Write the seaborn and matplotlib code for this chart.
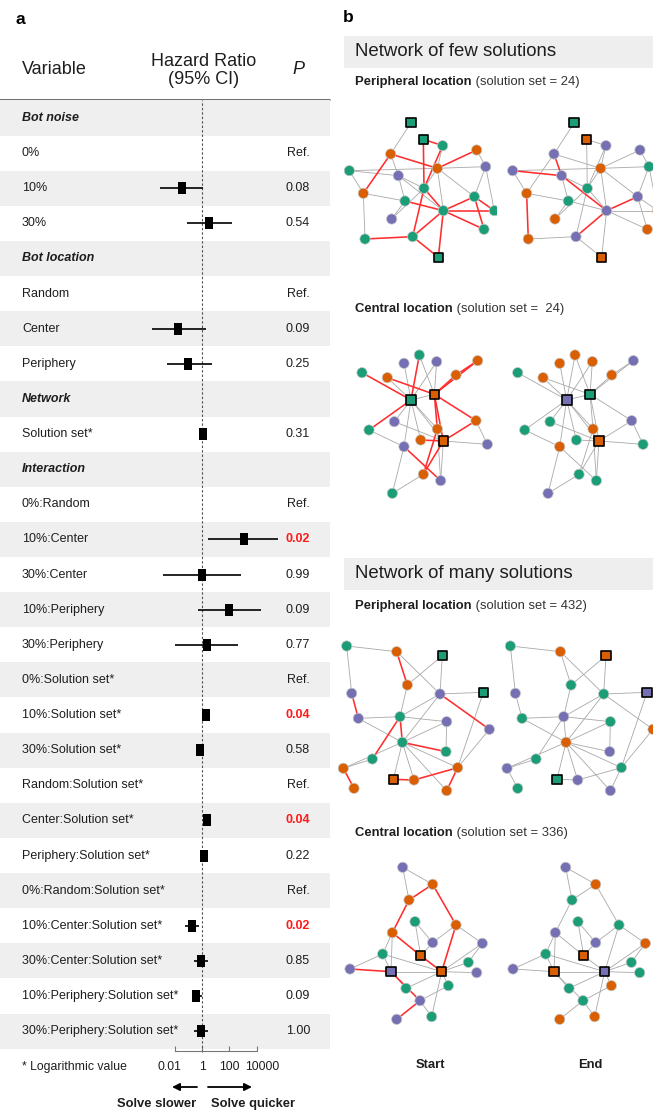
import numpy as np
import pandas as pd
import matplotlib
matplotlib.use("Agg")
import matplotlib.pyplot as plt
from matplotlib.path import Path
from matplotlib.patches import Rectangle
from matplotlib.collections import LineCollection
from matplotlib.transforms import blended_transform_factory, ScaledTranslation
import seaborn as sns

sns.set_theme(style="white")
plt.rcParams["font.family"] = ["Liberation Sans", "DejaVu Sans"]

W, H = 653, 1113
INK = "#1e1e1e"

# ---------------- panel a: hazard ratios ----------------
row_labels = [
    "Bot noise", "0%", "10%", "30%",
    "Bot location", "Random", "Center", "Periphery",
    "Network", "Solution set*",
    "Interaction", "0%:Random", "10%:Center", "30%:Center", "10%:Periphery",
    "30%:Periphery", "0%:Solution set*", "10%:Solution set*", "30%:Solution set*",
    "Random:Solution set*", "Center:Solution set*", "Periphery:Solution set*",
    "0%:Random:Solution set*", "10%:Center:Solution set*", "30%:Center:Solution set*",
    "10%:Periphery:Solution set*", "30%:Periphery:Solution set*",
]
header_rows = [0, 4, 8, 10]
nan = np.nan
hazard = [nan, nan, 0.033, 3.2, nan, nan, 0.017, 0.095, nan, 1.18,
          nan, nan, 1240, 0.95, 100, 2.2, nan, 1.96, 0.71, nan, 2.3, 1.4,
          nan, 0.19, 0.85, 0.36, 0.85]
ci_low = [nan, nan, 0.00085, 0.076, nan, nan, 0.00022, 0.0028, nan, 0.95,
          nan, nan, 2.9, 0.0015, 0.49, 0.0105, nan, 1.2, 0.43, nan, 1.2, 0.85,
          nan, 0.057, 0.26, 0.18, 0.27]
ci_high = [nan, nan, 1.26, 166, nan, nan, 1.95, 5.4, nan, 1.45,
           nan, nan, 380000, 680, 21000, 455, nan, 3.2, 1.18, nan, 4.5, 2.3,
           nan, 0.63, 2.9, 0.98, 2.9]
p_values = ["", "Ref.", "0.08", "0.54", "", "Ref.", "0.09", "0.25", "", "0.31",
            "", "Ref.", "0.02", "0.99", "0.09", "0.77", "Ref.", "0.04", "0.58",
            "Ref.", "0.04", "0.22", "Ref.", "0.02", "0.85", "0.09", "1.00"]
hr_ticks = [0.01, 1, 100, 10000]
hr_tick_labels = ["0.01", "1", "100", "10000"]

# ---------------- panel b: networks ----------------
pal = {"g": "#1b9e77", "o": "#d95f02", "p": "#7570b3"}

few_peri_x = [243, 280, 338, 182, 440, 58, 205, 322, 467, 100, 282, 225, 433, 185, 340, 493, 462, 105, 248, 325]
few_peri_y = [368, 418, 437, 462, 450, 512, 527, 505, 500, 580, 565, 603, 590, 657, 632, 632, 688, 717, 710, 772]
few_peri_start = "gggoogpopogggpgggggg"
few_peri_end = "gopppppogoggpopooopop"[:20]
few_peri_bots = [1, 2, 20]
few_peri_edges = [(1, 4), (6, 10), (10, 18), (10, 12), (7, 11), (8, 11), (8, 9), (8, 13), (9, 13),
                  (14, 11), (14, 12), (6, 8), (8, 15), (9, 16), (7, 12), (8, 3), (6, 7), (7, 15),
                  (15, 13), (15, 20), (4, 7), (4, 10), (4, 8), (8, 5), (2, 3), (2, 11), (11, 19),
                  (3, 11), (11, 15), (12, 15), (15, 16), (13, 17), (13, 16), (15, 17), (15, 19),
                  (19, 20), (18, 19), (5, 9)]

few_cent_x = [268, 222, 320, 443, 96, 172, 378, 243, 313, 193, 438, 117, 322, 272, 340, 222, 472, 280, 332, 187]
few_cent_y = [225, 250, 245, 242, 278, 293, 285, 360, 343, 425, 422, 450, 447, 480, 483, 500, 493, 583, 602, 640]
few_cent_start = "gppogoogopogooopporpg".replace("r", "")[:20]
few_cent_end = "ooopgoopggpgogoogggp"
few_cent_bots = [8, 9, 15]
few_cent_edges = [(5, 8), (1, 8), (6, 9), (7, 9), (4, 9), (4, 7), (9, 13), (9, 15), (9, 11), (11, 15),
                  (14, 15), (15, 18), (12, 8), (16, 19), (13, 18), (2, 8), (3, 8), (3, 9), (8, 9),
                  (8, 10), (8, 16), (8, 13), (8, 14), (10, 15), (12, 16), (16, 20), (18, 20),
                  (13, 19), (11, 17), (15, 19), (1, 9), (6, 8), (15, 17), (8, 15)]

many_peri_x = [50, 200, 337, 232, 65, 330, 460, 85, 210, 350, 478, 217, 348, 127, 40, 383, 72, 190, 252, 350]
many_peri_y = [318, 335, 347, 435, 460, 462, 457, 535, 530, 545, 568, 607, 635, 657, 685, 683, 745, 718, 720, 752]
many_peri_start = "gogoppgpgppgggoooooop"[:20]
many_peri_end = "googpgpgpgoopgpgggpp"
many_peri_bots = [3, 7, 18]
many_peri_edges = [(2, 4), (5, 8), (6, 11), (9, 12), (12, 13), (9, 14), (15, 17), (18, 19), (19, 16),
                   (1, 2), (1, 5), (2, 6), (3, 4), (3, 6), (6, 7), (6, 9), (6, 12), (8, 9), (9, 10),
                   (10, 13), (12, 10), (12, 15), (12, 18), (12, 19), (12, 20), (12, 16), (14, 15),
                   (16, 20), (16, 7), (4, 9), (12, 8), (11, 16)]

many_cent_x = [218, 308, 237, 255, 378, 187, 308, 457, 158, 272, 415, 60, 183, 335, 440, 228, 355, 270, 305, 200]
many_cent_y = [232, 283, 330, 395, 405, 428, 458, 460, 492, 497, 517, 537, 545, 545, 548, 595, 587, 632, 680, 688]
many_cent_start = "poogoopp" + "gogppopggpgp"
many_cent_end = "pogggppogogpopggogoo"
many_cent_bots = [10, 13, 14]
many_cent_edges = [(2, 3), (3, 6), (2, 5), (6, 10), (10, 14), (5, 14), (12, 13), (13, 18), (18, 20),
                   (1, 2), (1, 3), (4, 10), (4, 7), (7, 10), (6, 13), (9, 12), (9, 13), (13, 14),
                   (14, 11), (14, 15), (14, 17), (14, 16), (16, 13), (5, 8), (5, 7), (8, 14),
                   (18, 19), (14, 19), (17, 18), (11, 8), (9, 14), (6, 9)]

fig = plt.figure(figsize=(W / 100, H / 100), dpi=100)
fig.patch.set_facecolor("white")


def px_axes(left, top, width, height):
    return fig.add_axes([left / W, 1 - (top + height) / H, width / W, height / H])


ax_bg = px_axes(0, 0, W, H)
ax_bg.set_xlim(0, W)
ax_bg.set_ylim(H, 0)
ax_bg.set_axis_off()

# ---- forest plot ----
ax_f = px_axes(0, 100.4, 330, 948.3)
ax_f.patch.set_alpha(0)
ax_f.set_xscale("log")
ax_f.set_xlim(10 ** (-202 / 13.67), 10 ** (128 / 13.67))
ax_f.set_ylim(len(row_labels) - 0.5, -0.5)
for i in range(0, len(row_labels), 2):
    ax_f.axhspan(i - 0.5, i + 0.5, color="#efefef", lw=0, zorder=0)

ax_f.axvline(1, ymin=-0.003, ymax=1, color="#555555", lw=0.8, ls=(0, (2.2, 1.8)),
             clip_on=False, zorder=1)

rows = np.arange(len(row_labels))
est = pd.DataFrame({"row": rows, "hr": hazard, "lo": ci_low, "hi": ci_high}).dropna()
ax_f.hlines(est["row"], est["lo"], est["hi"], color="black", lw=1.2, zorder=2)
box = Path([(-0.28, -0.5), (0.28, -0.5), (0.28, 0.5), (-0.28, 0.5), (-0.28, -0.5)],
           [Path.MOVETO, Path.LINETO, Path.LINETO, Path.LINETO, Path.CLOSEPOLY])
sns.scatterplot(data=est, x="hr", y="row", marker=box, s=85, color="black",
                edgecolor="black", linewidth=0, ax=ax_f, zorder=3, legend=False)

for s in ["top", "left", "right"]:
    ax_f.spines[s].set_visible(False)
ax_f.spines["bottom"].set_bounds(hr_ticks[0], hr_ticks[-1])
ax_f.spines["bottom"].set_position(("outward", 2))
ax_f.spines["bottom"].set_color("#777777")
ax_f.spines["bottom"].set_linewidth(0.8)
ax_f.set_xticks(hr_ticks)
ax_f.set_xticklabels(hr_tick_labels)
ax_f.minorticks_off()
ax_f.set_yticks([])
ax_f.set_xlabel("")
ax_f.set_ylabel("")
ax_f.tick_params(axis="x", direction="in", length=3.5, width=0.8, colors="#777777",
                 labelcolor=INK, labelsize=8.8, pad=7, bottom=True)
# keep the outer tick labels from crowding their neighbours
for lab, dx in zip(ax_f.get_xticklabels(), [-5, 0, 0, 6]):
    lab.set_transform(lab.get_transform() + ScaledTranslation(dx / 100, 0, fig.dpi_scale_trans))

trans = blended_transform_factory(ax_f.transAxes, ax_f.transData)
for i, lab in enumerate(row_labels):
    if i in header_rows:
        ax_f.text(22 / 330, i, lab, transform=trans, va="center", ha="left", fontsize=9,
                  fontweight="bold", fontstyle="italic", color=INK)
    else:
        ax_f.text(22 / 330, i, lab, transform=trans, va="center", ha="left", fontsize=9,
                  color=INK)
    p = p_values[i]
    if p:
        sig = p != "Ref." and float(p) < 0.05
        ax_f.text(310 / 330, i, p, transform=trans, va="center", ha="right", fontsize=9,
                  color="#ff1a1a" if sig else INK, fontweight="bold" if sig else "normal")

# headings of panel a
ax_bg.text(20, 19, "a", fontsize=12.5, fontweight="bold", va="center", ha="center", color="black")
ax_bg.text(22, 70, "Variable", fontsize=13, va="center", ha="left", color=INK)
ax_bg.text(203.5, 70.5, "Hazard Ratio\n(95% CI)", fontsize=13, va="center", ha="center",
           color=INK, linespacing=1.1)
ax_bg.text(298, 70, "P", fontsize=13, fontstyle="italic", va="center", ha="center", color=INK)
ax_bg.plot([0, 330], [100.4, 100.4], color="#444444", lw=1.1)
ax_bg.text(22, 1067, "* Logarithmic value", fontsize=8.8, va="center", ha="left", color=INK)
arrow = dict(arrowstyle="-|>", color="black", lw=1.3, mutation_scale=11, shrinkA=0, shrinkB=0)
ax_bg.annotate("", xy=(172, 1087), xytext=(197, 1087), arrowprops=arrow)
ax_bg.annotate("", xy=(252, 1087), xytext=(208, 1087), arrowprops=arrow)
ax_bg.text(157, 1104, "Solve slower", fontsize=9.4, fontweight="bold", va="center", ha="center", color=INK)
ax_bg.text(253, 1104, "Solve quicker", fontsize=9.4, fontweight="bold", va="center", ha="center", color=INK)

# ---- panel b ----
ax_bg.text(348, 18, "b", fontsize=12.5, fontweight="bold", va="center", ha="center", color="black")
renderer = fig.canvas.get_renderer()


def label_pair(x, y, bold, rest, size=9.4):
    t = ax_bg.text(x, y, bold, fontsize=size, fontweight="bold", va="center", ha="left", color=INK)
    bb = t.get_window_extent(renderer=renderer)
    ax_bg.text(x + bb.width, y, rest, fontsize=size, va="center", ha="left", color="#333333")


def section(y_top, title):
    ax_bg.add_patch(Rectangle((344, y_top), W - 344, 32, color="#eeeeee", lw=0))
    ax_bg.text(355, y_top + 16, title, fontsize=13.4, va="center", ha="left", color=INK)


section(36, "Network of few solutions")
label_pair(355, 82, "Peripheral location", " (solution set = 24)")
label_pair(355, 309, "Central location", " (solution set =  24)")
section(558, "Network of many solutions")
label_pair(355, 606, "Peripheral location", " (solution set = 432)")
label_pair(355, 833, "Central location", " (solution set = 336)")
ax_bg.text(430, 1065, "Start", fontsize=9.4, fontweight="bold", va="center", ha="center", color=INK)
ax_bg.text(590, 1065, "End", fontsize=9.4, fontweight="bold", va="center", ha="center", color=INK)


def draw_network(ax, xs, ys, colors, bots, edges):
    gray, red = [], []
    for a, b in edges:
        seg = [(xs[a - 1], ys[a - 1]), (xs[b - 1], ys[b - 1])]
        (red if colors[a - 1] == colors[b - 1] else gray).append(seg)
    ax.add_collection(LineCollection(gray, colors="#a8a8a8", linewidths=0.6, zorder=1))
    ax.add_collection(LineCollection(red, colors="#ff2e2e", linewidths=1.15, zorder=2))
    nodes = pd.DataFrame({"x": xs, "y": ys, "color": list(colors),
                          "bot": [i + 1 in bots for i in range(len(xs))]})
    sns.scatterplot(data=nodes[~nodes["bot"]], x="x", y="y", hue="color", palette=pal,
                    s=55, edgecolor="#c9c9c9", linewidth=0.5, legend=False, ax=ax, zorder=3)
    sns.scatterplot(data=nodes[nodes["bot"]], x="x", y="y", hue="color", palette=pal,
                    marker="s", s=48, edgecolor="black", linewidth=1.2, legend=False, ax=ax, zorder=4)


networks = [
    (0, 330, 800, 163.3, few_peri_x, few_peri_y, few_peri_start, few_peri_end, few_peri_bots, few_peri_edges),
    (280, 190, 680, 155.7, few_cent_x, few_cent_y, few_cent_start, few_cent_end, few_cent_bots, few_cent_edges),
    (540, 280, 790, 163.7, many_peri_x, many_peri_y, many_peri_start, many_peri_end, many_peri_bots, many_peri_edges),
    (790, 190, 730, 163.0, many_cent_x, many_cent_y, many_cent_start, many_cent_end, many_cent_bots, many_cent_edges),
]
for oy, y0, y1, shift, xs, ys, c_start, c_end, bots, edges in networks:
    for dx, cols in [(0, c_start), (shift, c_end)]:
        ax = px_axes(330 + dx, oy + y0 / 3, 500 / 3, (y1 - y0) / 3)
        draw_network(ax, xs, ys, cols, bots, edges)
        ax.set_xlim(0, 500)
        ax.set_ylim(y1, y0)
        ax.set_axis_off()

fig.savefig("out.png", dpi=100, facecolor="white")
